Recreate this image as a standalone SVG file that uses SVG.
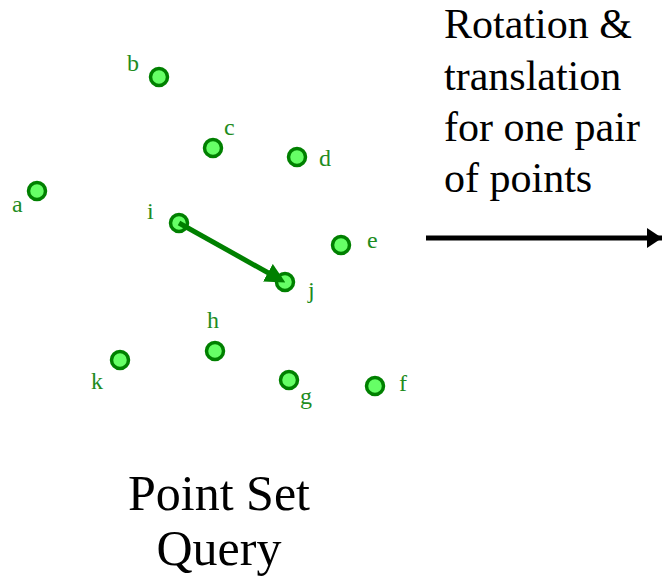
<svg xmlns="http://www.w3.org/2000/svg" width="662" height="585" viewBox="0 0 662 585">
<defs>
<marker id="gh" markerWidth="4" markerHeight="4" refX="3" refY="2" orient="auto" markerUnits="strokeWidth"><path d="M0,0 L4,2 L0,4 Z" fill="#008000"/></marker>
<marker id="bh" markerWidth="3" markerHeight="4" refX="3" refY="2" orient="auto" markerUnits="strokeWidth"><path d="M0,0 L3,2 L0,4 Z" fill="#000"/></marker>
</defs>
<rect width="662" height="585" fill="#fff"/>
<g id="nodes" stroke-width="3.5">
<g id="a"><circle fill="#66ff66" stroke="#008000" cx="37" cy="191" r="8.5"/><text font-family="Times New Roman" font-size="24" fill="#1e8c1e" x="12" y="212">a</text></g>
<g id="b"><circle fill="#66ff66" stroke="#008000" cx="159" cy="77" r="8.5"/><text font-family="Times New Roman" font-size="24" fill="#1e8c1e" x="127" y="71">b</text></g>
<g id="c"><circle fill="#66ff66" stroke="#008000" cx="213" cy="148" r="8.5"/><text font-family="Times New Roman" font-size="24" fill="#1e8c1e" x="224" y="135">c</text></g>
<g id="d"><circle fill="#66ff66" stroke="#008000" cx="297" cy="157" r="8.5"/><text font-family="Times New Roman" font-size="24" fill="#1e8c1e" x="319" y="166">d</text></g>
<g id="e"><circle fill="#66ff66" stroke="#008000" cx="341" cy="245" r="8.5"/><text font-family="Times New Roman" font-size="24" fill="#1e8c1e" x="367" y="248">e</text></g>
<g id="f"><circle fill="#66ff66" stroke="#008000" cx="375" cy="386" r="8.5"/><text font-family="Times New Roman" font-size="24" fill="#1e8c1e" x="399" y="391">f</text></g>
<g id="g"><circle fill="#66ff66" stroke="#008000" cx="289" cy="380" r="8.5"/><text font-family="Times New Roman" font-size="24" fill="#1e8c1e" x="300" y="404">g</text></g>
<g id="h"><circle fill="#66ff66" stroke="#008000" cx="215" cy="351" r="8.5"/><text font-family="Times New Roman" font-size="24" fill="#1e8c1e" x="207" y="328">h</text></g>
<g id="i"><circle fill="#66ff66" stroke="#008000" cx="179" cy="223" r="8.5"/><text font-family="Times New Roman" font-size="24" fill="#1e8c1e" x="147" y="219">i</text></g>
<g id="j"><circle fill="#66ff66" stroke="#008000" cx="285" cy="282" r="8.5"/><text font-family="Times New Roman" font-size="24" fill="#1e8c1e" x="308" y="298">j</text></g>
<g id="k"><circle fill="#66ff66" stroke="#008000" cx="120" cy="360" r="8.5"/><text font-family="Times New Roman" font-size="24" fill="#1e8c1e" x="91" y="389">k</text></g>
</g>
<g id="connectors">
<line x1="179" y1="223" x2="281" y2="280" stroke="#008000" stroke-width="5" marker-end="url(#gh)"/>
<line x1="426" y1="238" x2="662" y2="238" stroke="#000" stroke-width="5" marker-end="url(#bh)"/>
</g>
<g id="caption" fill="#000">
<text font-family="Times New Roman" font-size="42" x="444" y="38">Rotation &amp;</text>
<text font-family="Times New Roman" font-size="42" x="444" y="90">translation</text>
<text font-family="Times New Roman" font-size="42" x="444" y="141">for one pair</text>
<text font-family="Times New Roman" font-size="42" x="444" y="192">of points</text>
<text font-family="Times New Roman" font-size="50" x="219" y="510" text-anchor="middle">Point Set</text>
<text font-family="Times New Roman" font-size="50" x="219" y="565" text-anchor="middle">Query</text>
</g>
</svg>
